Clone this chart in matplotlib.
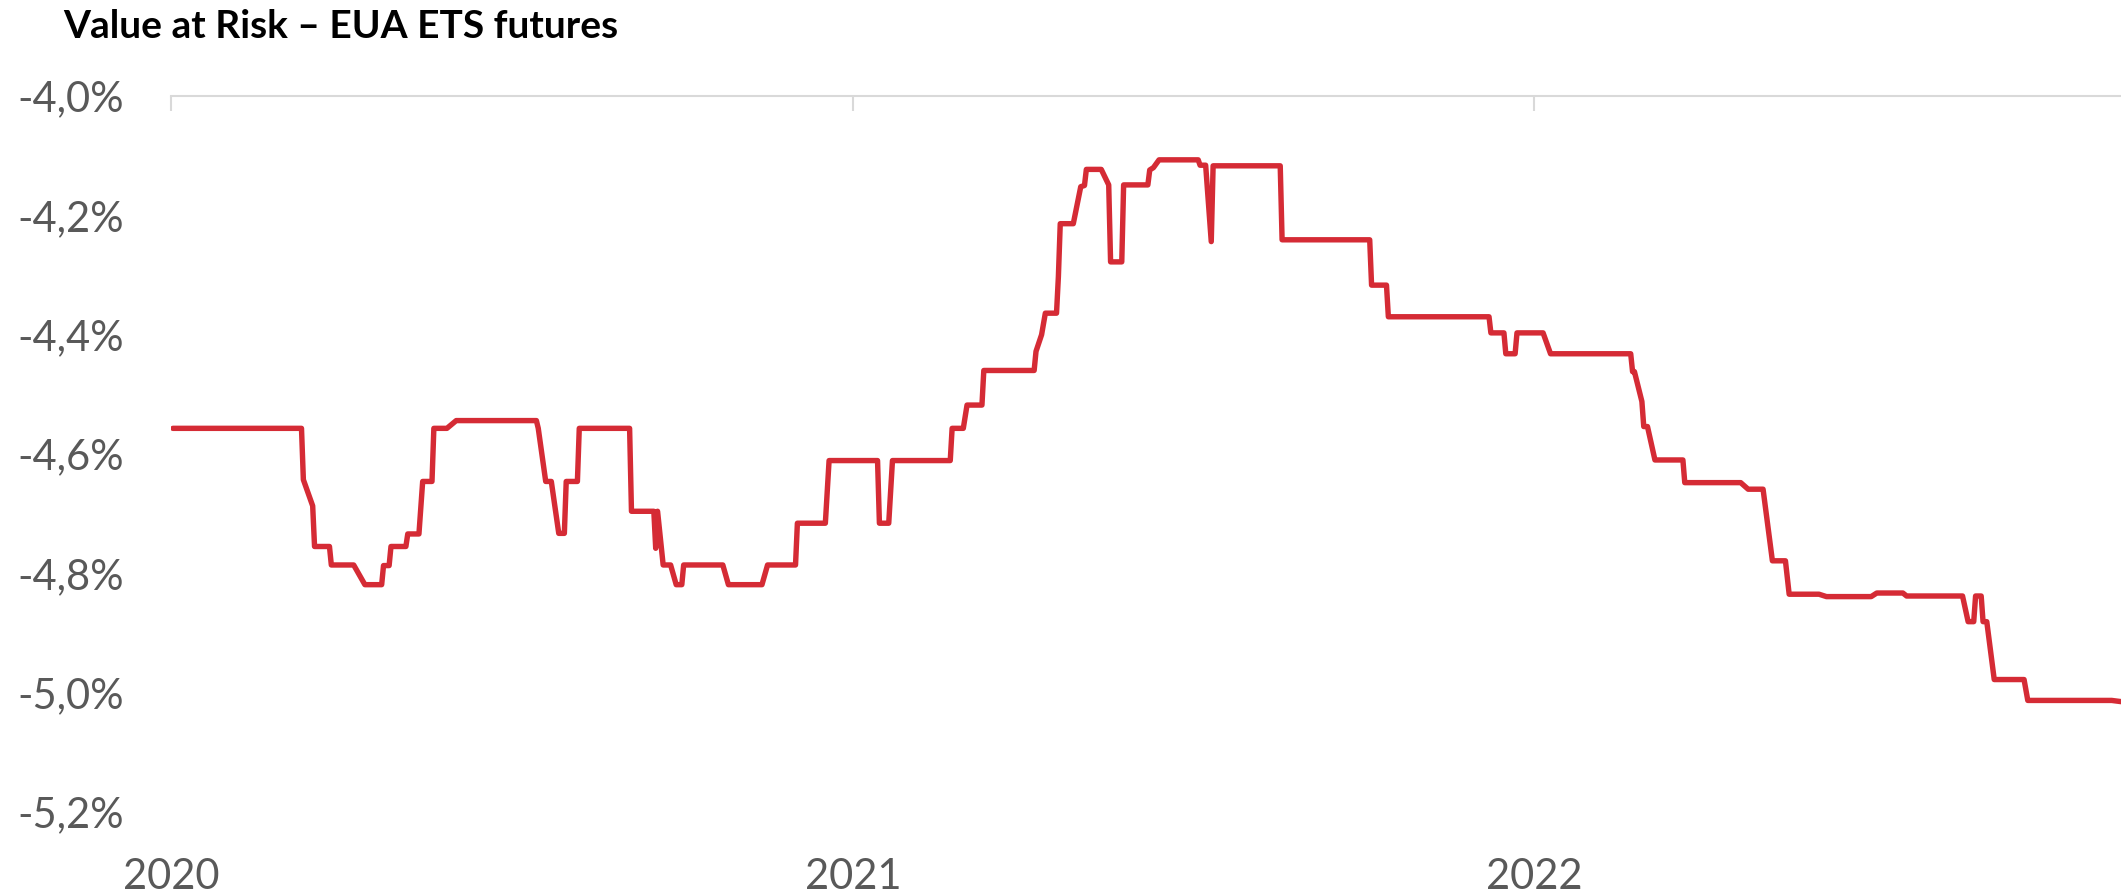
import matplotlib
matplotlib.use("Agg")
import matplotlib.pyplot as plt
import matplotlib.dates as mdates
from matplotlib.ticker import FuncFormatter
import pandas as pd

# Value at Risk (%), breakpoints of the step line
dates = [
    "2020-01-02", "2020-03-11", "2020-03-12", "2020-03-17", "2020-03-18", "2020-03-26",
    "2020-03-27", "2020-04-08", "2020-04-14", "2020-04-23", "2020-04-24", "2020-04-27",
    "2020-04-28", "2020-05-06", "2020-05-07", "2020-05-13", "2020-05-15", "2020-05-20",
    "2020-05-21", "2020-05-28", "2020-06-02", "2020-07-15", "2020-07-16", "2020-07-20",
    "2020-07-23", "2020-07-27", "2020-07-30", "2020-07-31", "2020-08-06", "2020-08-07",
    "2020-09-03", "2020-09-04", "2020-09-16", "2020-09-17", "2020-09-18", "2020-09-21",
    "2020-09-25", "2020-09-28", "2020-10-01", "2020-10-02", "2020-10-23", "2020-10-26",
    "2020-11-13", "2020-11-16", "2020-12-01", "2020-12-02", "2020-12-17", "2020-12-19",
    "2021-01-14", "2021-01-15", "2021-01-20", "2021-01-22", "2021-02-22", "2021-02-23",
    "2021-03-01", "2021-03-03", "2021-03-11", "2021-03-12", "2021-04-08", "2021-04-09",
    "2021-04-12", "2021-04-14", "2021-04-20", "2021-04-21", "2021-04-22", "2021-04-29",
    "2021-05-03", "2021-05-05", "2021-05-06", "2021-05-14", "2021-05-18", "2021-05-19",
    "2021-05-25", "2021-05-26", "2021-06-08", "2021-06-09", "2021-06-11", "2021-06-14",
    "2021-07-05", "2021-07-06", "2021-07-09", "2021-07-12", "2021-07-13", "2021-08-18",
    "2021-08-19", "2021-10-05", "2021-10-06", "2021-10-14", "2021-10-15", "2021-12-08",
    "2021-12-09", "2021-12-16", "2021-12-17", "2021-12-22", "2021-12-23", "2022-01-06",
    "2022-01-10", "2022-02-22", "2022-02-23", "2022-02-24", "2022-02-28", "2022-03-01",
    "2022-03-03", "2022-03-07", "2022-03-22", "2022-03-23", "2022-04-22", "2022-04-26",
    "2022-05-04", "2022-05-09", "2022-05-16", "2022-05-18", "2022-06-03", "2022-06-07",
    "2022-07-01", "2022-07-04", "2022-07-18", "2022-07-20", "2022-08-19", "2022-08-22",
    "2022-08-25", "2022-08-26", "2022-08-29", "2022-08-30", "2022-09-01", "2022-09-05",
    "2022-09-21", "2022-09-23", "2022-11-07", "2022-11-12",
]
var_pct = [
    -4.557, -4.557, -4.643, -4.687, -4.755, -4.755,
    -4.786, -4.786, -4.819, -4.819, -4.787, -4.787,
    -4.755, -4.755, -4.734, -4.734, -4.646, -4.646,
    -4.557, -4.557, -4.544, -4.544, -4.557, -4.646,
    -4.646, -4.733, -4.733, -4.646, -4.646, -4.557,
    -4.557, -4.696, -4.696, -4.758, -4.696, -4.786,
    -4.786, -4.819, -4.819, -4.786, -4.786, -4.819,
    -4.819, -4.786, -4.786, -4.716, -4.716, -4.611,
    -4.611, -4.716, -4.716, -4.611, -4.611, -4.557,
    -4.557, -4.518, -4.518, -4.460, -4.460, -4.428,
    -4.400, -4.364, -4.364, -4.303, -4.214, -4.214,
    -4.152, -4.150, -4.123, -4.123, -4.149, -4.278,
    -4.278, -4.149, -4.149, -4.124, -4.120, -4.107,
    -4.107, -4.116, -4.116, -4.244, -4.117, -4.117,
    -4.241, -4.241, -4.317, -4.317, -4.370, -4.370,
    -4.397, -4.397, -4.432, -4.432, -4.397, -4.397,
    -4.432, -4.432, -4.462, -4.462, -4.512, -4.554,
    -4.554, -4.610, -4.610, -4.648, -4.648, -4.659,
    -4.659, -4.779, -4.779, -4.835, -4.835, -4.839,
    -4.839, -4.833, -4.833, -4.838, -4.838, -4.881,
    -4.881, -4.838, -4.838, -4.881, -4.881, -4.978,
    -4.978, -5.013, -5.013, -5.015,
]
y_ticks = [-5.2, -5.0, -4.8, -4.6, -4.4, -4.2, -4.0]
title = "Value at Risk – EUA ETS futures"

x = pd.to_datetime(dates)

plt.rcParams["font.family"] = ["Lato", "DejaVu Sans"]

fig = plt.figure(figsize=(21.21, 8.94), dpi=100)
ax = fig.add_axes([171 / 2121, 1 - 812 / 894, 1 - 171 / 2121, (812 - 96) / 894])

ax.plot(x, var_pct, color="#D52B35", linewidth=3.9, solid_joinstyle="round",
        solid_capstyle="round")

ax.set_ylim(-5.2, -4.0)
ax.set_xlim(pd.Timestamp("2020-01-01"), pd.Timestamp("2022-11-12"))
ax.set_yticks(y_ticks)
ax.yaxis.set_major_formatter(FuncFormatter(lambda v, _: f"{v:.1f}%".replace(".", ",")))
ax.xaxis.set_major_locator(mdates.YearLocator())
ax.xaxis.set_major_formatter(mdates.DateFormatter("%Y"))

for side in ["left", "right", "bottom"]:
    ax.spines[side].set_visible(False)
ax.spines["top"].set_color("#D9D9D9")
ax.spines["top"].set_linewidth(1.5)

ax.tick_params(axis="y", length=0, pad=34, labelsize=30, labelcolor="#595959")
ax.tick_params(axis="x", bottom=False, top=True, labelbottom=True, labeltop=False,
               direction="in", length=11, width=1.5, color="#D9D9D9",
               pad=33, labelsize=30, labelcolor="#595959")

fig.text(63 / 2121, 1 - 37.7 / 894, title, fontsize=28, fontweight="bold",
         color="black", ha="left", va="baseline")

fig.savefig("out.png", dpi=100)
